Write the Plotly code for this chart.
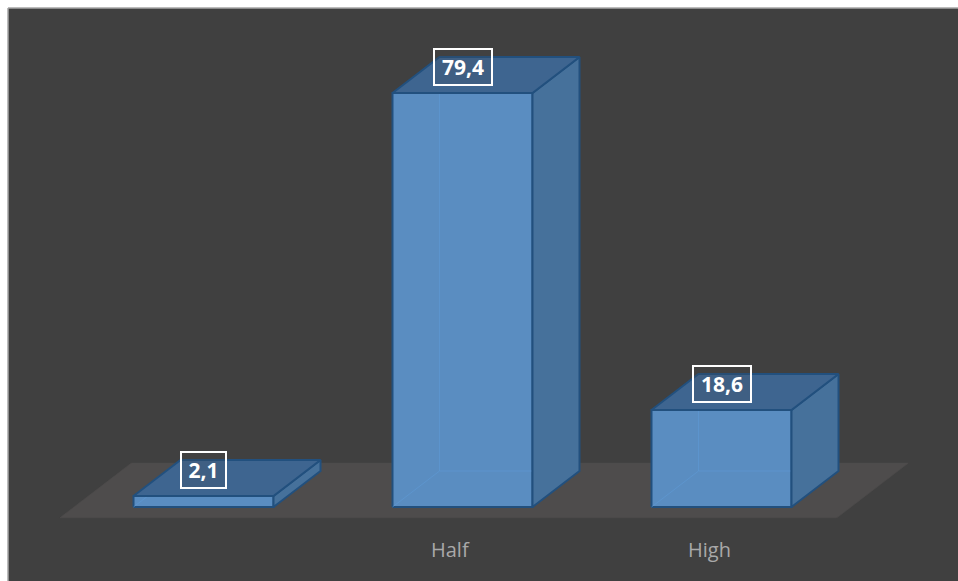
import plotly.graph_objects as go

# ---- data ----
categories = ["", "Half", "High"]
values = [2.1, 79.4, 18.6]
value_labels = ["2,1", "79,4", "18,6"]

# ---- geometry / style (layout, not data) ----
PX_PER_CAT = 259.0
PX_PER_VAL = 414.0 / 79.4
BAR_HALF = 70.0 / PX_PER_CAT          # half of bar width in category units
DEPTH_X = 47.0 / PX_PER_CAT           # oblique depth offset, x
DEPTH_Y = 36.0 / PX_PER_VAL           # oblique depth offset, y
FLOOR_FRONT, FLOOR_BACK = -0.30, 1.22  # floor depth extent in bar-depth units

BG = "#404040"
FLOOR = "#4e4c4c"
FRONT = "#5a8dc1"
TOP = "#3e6590"
SIDE = "#46719b"
EDGE = "#22507e"
HIDDEN = "rgba(95,155,215,0.55)"

W, H = 958, 581
ML, MT = 8, 8
X0_PX, Y0_PX = 203.5, 507.0
x_range = [(ML - X0_PX) / PX_PER_CAT, (W - X0_PX) / PX_PER_CAT]
y_range = [(Y0_PX - H) / PX_PER_VAL, (Y0_PX - MT) / PX_PER_VAL]


def proj(x, v, d):
    return x + d * DEPTH_X, v + d * DEPTH_Y


def poly(points, fill, line_color=EDGE, width=2):
    xs, ys = zip(*[proj(*p) for p in points])
    return go.Scatter(x=list(xs) + [xs[0]], y=list(ys) + [ys[0]], mode="lines",
                      fill="toself", fillcolor=fill,
                      line=dict(color=line_color, width=width),
                      hoverinfo="skip", showlegend=False)


def seg(points, color, width=1):
    xs, ys = zip(*[proj(*p) for p in points])
    return go.Scatter(x=list(xs), y=list(ys), mode="lines",
                      line=dict(color=color, width=width),
                      hoverinfo="skip", showlegend=False)


fig = go.Figure()

# floor
n = len(categories)
fl, fr = -0.5, n - 0.5
fig.add_trace(poly([(fl, 0, FLOOR_FRONT), (fr, 0, FLOOR_FRONT),
                    (fr, 0, FLOOR_BACK), (fl, 0, FLOOR_BACK)],
                   FLOOR, line_color=FLOOR, width=0.5))

for i, v in enumerate(values):
    l, r = i - BAR_HALF, i + BAR_HALF
    fig.add_trace(poly([(l, 0, 0), (r, 0, 0), (r, v, 0), (l, v, 0)], FRONT))
    fig.add_trace(seg([(l, 0, 0), (l, 0, 1), (r, 0, 1)], HIDDEN))
    fig.add_trace(seg([(l, 0, 1), (l, v, 1)], HIDDEN))
    fig.add_trace(poly([(r, 0, 0), (r, 0, 1), (r, v, 1), (r, v, 0)], SIDE))
    fig.add_trace(poly([(l, v, 0), (r, v, 0), (r, v, 1), (l, v, 1)], TOP))

annotations = []
for i, (v, t) in enumerate(zip(values, value_labels)):
    annotations.append(dict(
        x=i, y=v, xref="x", yref="y", text=t, showarrow=False, yshift=26,
        font=dict(family="Open Sans", size=21, color="white", weight="bold"),
        bordercolor="white", borderwidth=2, borderpad=2,
        bgcolor="rgba(70,70,70,0.18)", width=13 * len(t) + 0, height=30))

for i, c in enumerate(categories):
    if not c:
        continue
    cx, cy = proj(i, 0, FLOOR_FRONT)
    annotations.append(dict(
        x=cx, y=cy, xref="x", yref="y", text=c, showarrow=False, yshift=-32,
        xshift=2,
        font=dict(family="Open Sans", size=20, color="#a9a9a9")))

fig.update_layout(
    width=W, height=H,
    margin=dict(l=ML, t=MT, r=0, b=0, pad=0),
    paper_bgcolor="white", plot_bgcolor=BG,
    xaxis=dict(range=x_range, visible=False, fixedrange=True),
    yaxis=dict(range=y_range, visible=False, fixedrange=True),
    annotations=annotations,
    hovermode=False, showlegend=False,
    shapes=[
        dict(type="line", xref="paper", yref="paper", x0=0, y0=1, x1=1.01, y1=1,
             line=dict(color="#a6a6a6", width=1.5), layer="below"),
        dict(type="line", xref="paper", yref="paper", x0=0, y0=-0.01, x1=0, y1=1,
             line=dict(color="#a6a6a6", width=1.5), layer="below"),
    ],
)

fig.write_html("out.html", config={"displayModeBar": False})
